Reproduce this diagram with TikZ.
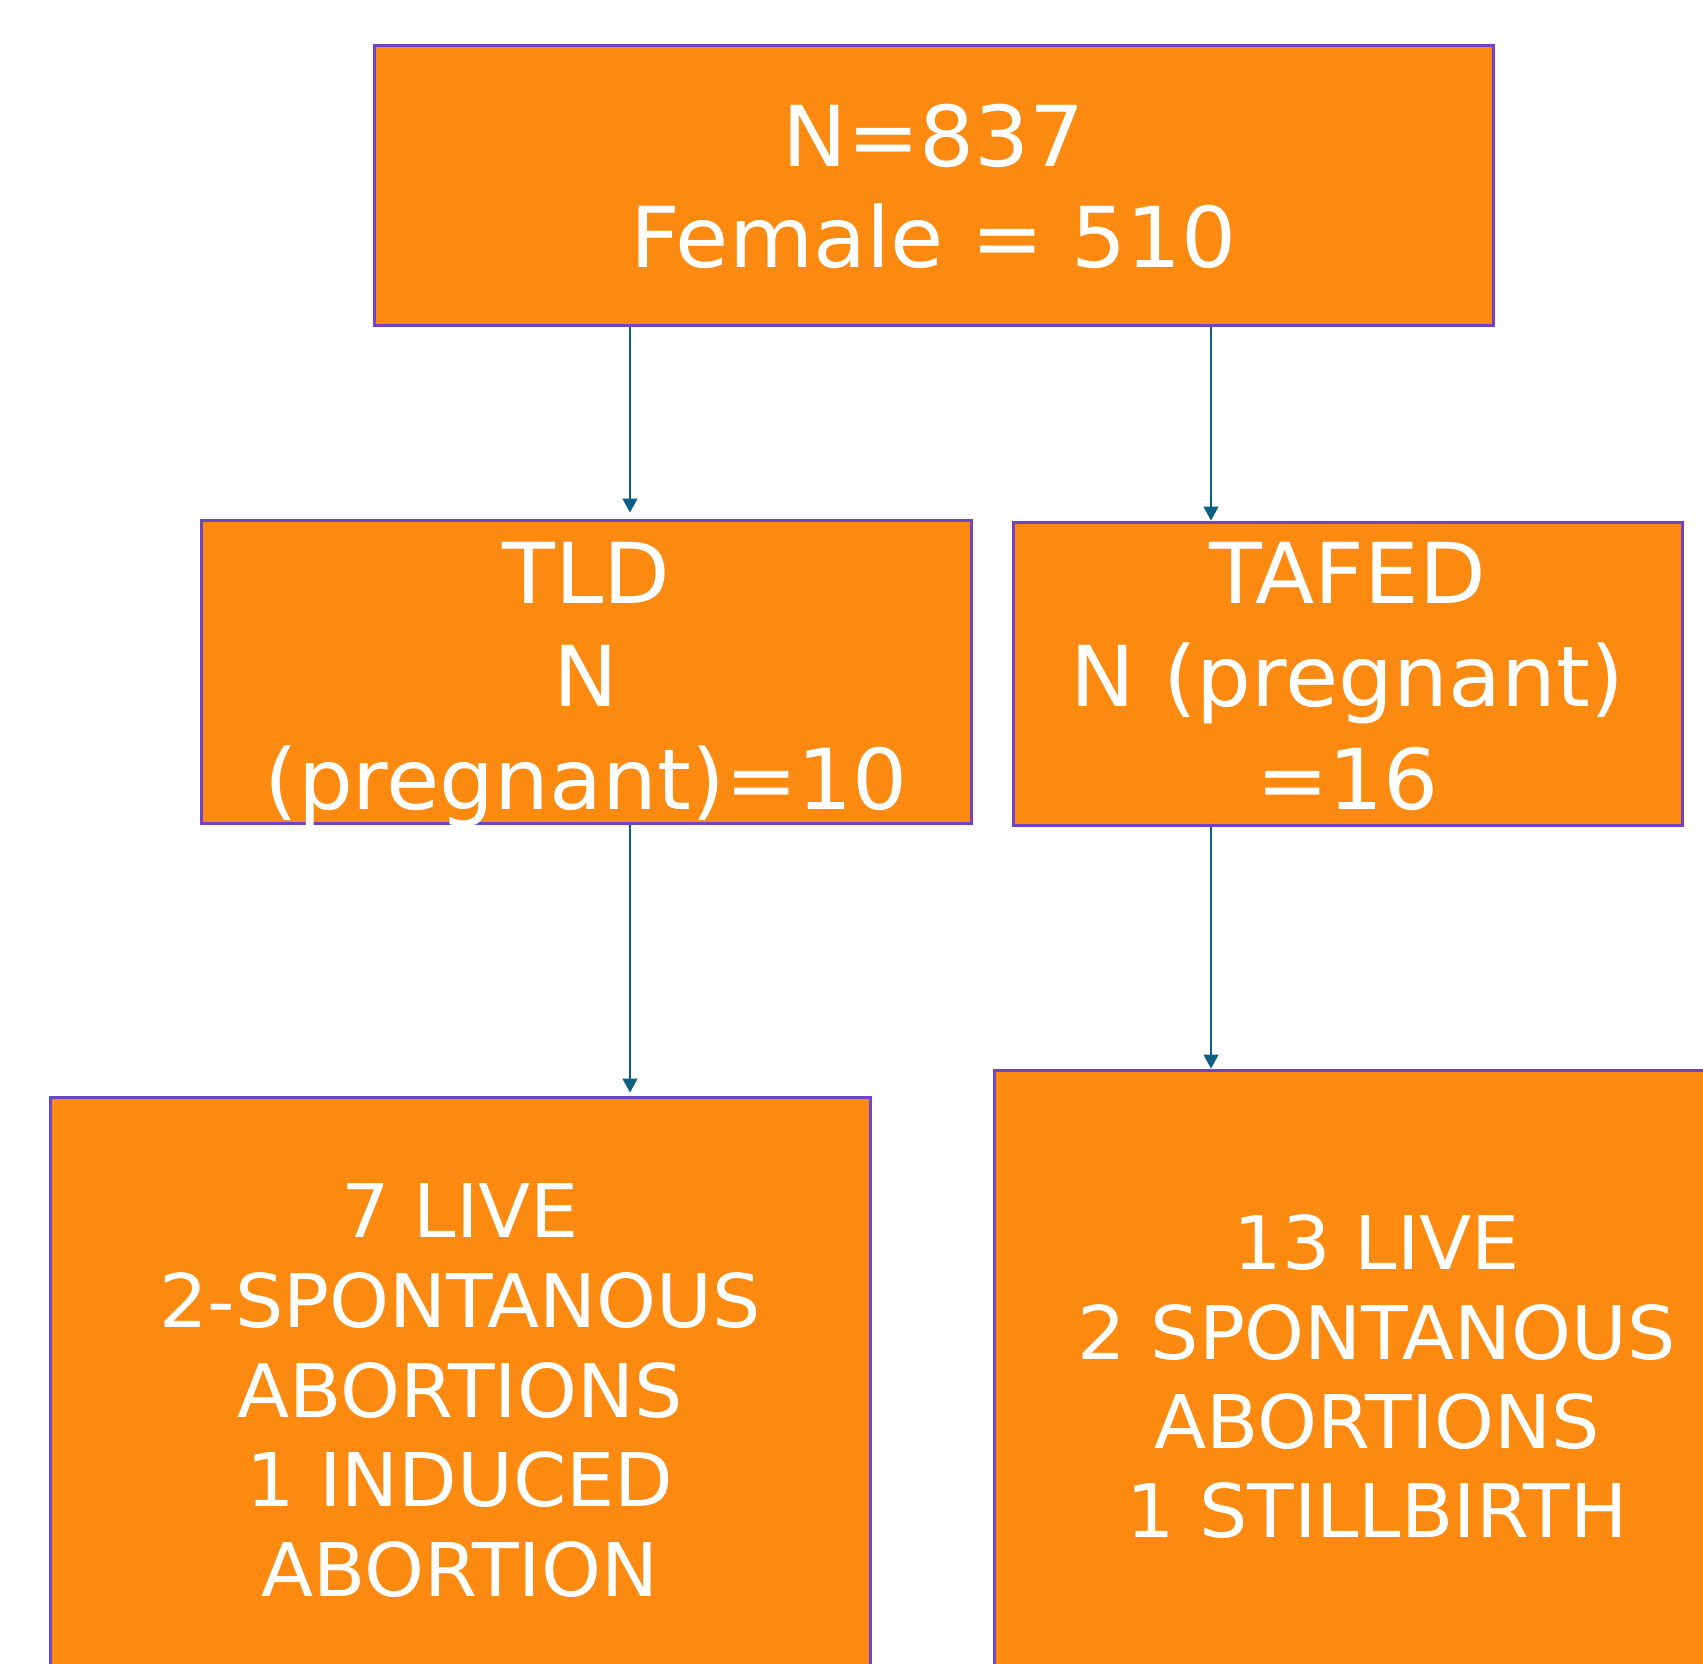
\documentclass[tikz,border=0pt]{standalone}
\usepackage{fontspec}
\setmainfont{DejaVu Sans}[FakeStretch=1.03]
\usetikzlibrary{arrows.meta,positioning}
\definecolor{boxorange}{HTML}{FD8A10}
\definecolor{boxedge}{HTML}{7044C4}
\definecolor{arrowblue}{HTML}{0B6083}
\begin{document}
\begin{tikzpicture}[x=0.5pt,y=-0.5pt,
    box/.style={draw=boxedge,fill=boxorange,line width=1.5pt,inner sep=0pt,rectangle},
    txt/.style={text=white,align=center,inner sep=0pt},
    arr/.style={arrowblue,line width=0.75pt,-{Triangle[length=7pt,width=7.5pt]}}]
        \clip (0,0) rectangle (1703,1664);
        % boxes
        \node[box,minimum width=559.5pt,minimum height=140pt,txt,font=\fontsize{42}{50.5}\selectfont]
            (top) at (933.5,186) {N=837\\Female = 510};
        \node[box,minimum width=385pt,minimum height=151.5pt] (tld) at (586,671.5) {};
        \node[box,minimum width=334.5pt,minimum height=151.5pt] (tafed) at (1347.5,673.5) {};
        \node[box,minimum width=410pt,minimum height=301.5pt] (live7) at (460,1398.5) {};
        \node[box,minimum width=383pt,minimum height=315pt] (live13) at (1377,1385) {};
        % texts
        \node[txt,font=\fontsize{42}{51.5}\selectfont,below=11.5pt of tld.north] (tldtxt)
            {TLD\\N\\(pregnant)=10};
        \node[txt,font=\fontsize{42}{51.5}\selectfont,below=10.5pt of tafed.north] (tafedtxt)
            {TAFED\\N (pregnant)\\=16};
        \node[txt,font=\fontsize{37}{44.8}\selectfont,below=44pt of live7.north] (live7txt)
            {7 LIVE\\2-SPONTANOUS\\ABORTIONS\\1 INDUCED\\ABORTION};
        \node[txt,font=\fontsize{37}{44.6}\selectfont,below=73pt of live13.north] (live13txt)
            {13 LIVE\\2 SPONTANOUS\\ABORTIONS\\1 STILLBIRTH};
        % arrows
        \draw[arr,shorten >=3pt] ([xshift=-151.75pt]top.south) -- ([xshift=-151.75pt]top.south |- tld.north);
        \draw[arr] ([xshift=138.75pt]top.south) -- ([xshift=138.75pt]top.south |- tafed.north);
        \draw[arr,shorten >=1.5pt] ([xshift=22pt]tld.south) -- ([xshift=22pt]tld.south |- live7.north);
        \draw[arr] ([xshift=-68.25pt]tafed.south) -- ([xshift=-68.25pt]tafed.south |- live13.north);
\end{tikzpicture}
\end{document}
